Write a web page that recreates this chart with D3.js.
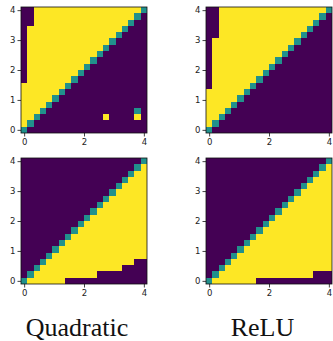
<!DOCTYPE html>
<html>
<head>
<meta charset="utf-8">
<script src="https://cdn.jsdelivr.net/npm/d3@7"></script>
<style>
  body { margin: 0; background: #fff; }
  svg { display: block; }
</style>
</head>
<body>
<div id="chart"></div>
<script>
// grid points on each axis (0..4 in 20 steps)
const gridVals = [0, 0.21, 0.42, 0.63, 0.84, 1.05, 1.26, 1.47, 1.68, 1.89,
                  2.11, 2.32, 2.53, 2.74, 2.95, 3.16, 3.37, 3.58, 3.79, 4.0];
const yTicks = [0, 1, 2, 3, 4];
const xTicks = [0, 2, 4];
const labels = ["Quadratic", "ReLU"];

// cell values, top row first: 0 -> 0, 1 -> 0.5, 2 -> 1
const quadTop = [
  "00222 22222 22222 22221",
  "00222 22222 22222 22210",
  "00222 22222 22222 22100",
  "02222 22222 22222 21000",
  "02222 22222 22222 10000",
  "02222 22222 22221 00000",
  "02222 22222 22210 00000",
  "02222 22222 22100 00000",
  "02222 22222 21000 00000",
  "02222 22222 10000 00000",
  "02222 22221 00000 00000",
  "02222 22210 00000 00000",
  "22222 22100 00000 00000",
  "22222 21000 00000 00000",
  "22222 10000 00000 00000",
  "22221 00000 00000 00000",
  "22210 00000 00000 00010",
  "22100 00000 00020 00020",
  "21000 00000 00000 00000",
  "10000 00000 00000 00000"
];
const reluTop = [
  "00222 22222 22222 22221",
  "00222 22222 22222 22210",
  "00222 22222 22222 22100",
  "00222 22222 22222 21000",
  "00222 22222 22222 10000",
  "02222 22222 22221 00000",
  "02222 22222 22210 00000",
  "02222 22222 22100 00000",
  "02222 22222 21000 00000",
  "02222 22222 10000 00000",
  "02222 22221 00000 00000",
  "02222 22210 00000 00000",
  "02222 22100 00000 00000",
  "22222 21000 00000 00000",
  "22222 10000 00000 00000",
  "22221 00000 00000 00000",
  "22210 00000 00000 00000",
  "22100 00000 00000 00000",
  "21000 00000 00000 00000",
  "10000 00000 00000 00000"
];
const quadBot = [
  "00000 00000 00000 00001",
  "00000 00000 00000 00012",
  "00000 00000 00000 00122",
  "00000 00000 00000 01222",
  "00000 00000 00000 12222",
  "00000 00000 00001 22222",
  "00000 00000 00012 22222",
  "00000 00000 00122 22222",
  "00000 00000 01222 22222",
  "00000 00000 12222 22222",
  "00000 00001 22222 22222",
  "00000 00012 22222 22222",
  "00000 00122 22222 22222",
  "00000 01222 22222 22222",
  "00000 12222 22222 22222",
  "00001 22222 22222 22222",
  "00012 22222 22222 22200",
  "00122 22222 22222 20000",
  "01222 22222 22000 00000",
  "12222 22000 00000 00000"
];
const reluBot = [
  "00000 00000 00000 00001",
  "00000 00000 00000 00012",
  "00000 00000 00000 00122",
  "00000 00000 00000 01222",
  "00000 00000 00000 12222",
  "00000 00000 00001 22222",
  "00000 00000 00012 22222",
  "00000 00000 00122 22222",
  "00000 00000 01222 22222",
  "00000 00000 12222 22222",
  "00000 00001 22222 22222",
  "00000 00012 22222 22222",
  "00000 00122 22222 22222",
  "00000 01222 22222 22222",
  "00000 12222 22222 22222",
  "00001 22222 22222 22222",
  "00012 22222 22222 22222",
  "00122 22222 22222 22222",
  "01222 22222 22222 22000",
  "12222 22200 00000 00000"
];

const W = 333, H = 341;
const size = 126;
const half = 0.105;

const panels = [
  { rows: quadTop, left: 21, top: 7 },
  { rows: reluTop, left: 206, top: 7 },
  { rows: quadBot, left: 21, top: 158 },
  { rows: reluBot, left: 206, top: 158 }
];

const color = d3.scaleSequential(d3.interpolateViridis).domain([0, 1]);

const svg = d3.select("#chart").append("svg")
  .attr("width", W)
  .attr("height", H);

const x = d3.scaleLinear().domain([-half, 4 + half]).range([0, size]);
const y = d3.scaleLinear().domain([-half, 4 + half]).range([size, 0]);
const cw = x(gridVals[1]) - x(gridVals[0]);

panels.forEach(p => {
  // turn the strings into cells
  const cells = [];
  const n = gridVals.length;
  p.rows.forEach((r, ri) => {
    const s = r.replace(/ /g, "");
    const j = n - 1 - ri;
    for (let i = 0; i < n; i++) {
      cells.push({ gx: gridVals[i], gy: gridVals[j], v: +s[i] / 2 });
    }
  });

  const g = svg.append("g")
    .attr("transform", "translate(" + p.left + "," + p.top + ")");

  g.selectAll("rect.cell")
    .data(cells)
    .enter()
    .append("rect")
    .attr("class", "cell")
    .attr("x", d => x(d.gx) - cw / 2)
    .attr("y", d => y(d.gy) - cw / 2)
    .attr("width", cw + 0.3)
    .attr("height", cw + 0.3)
    .attr("fill", d => color(d.v))
    .attr("shape-rendering", "crispEdges");

  // frame
  g.append("rect")
    .attr("width", size)
    .attr("height", size)
    .attr("fill", "none")
    .attr("stroke", "#111")
    .attr("stroke-width", 0.8);

  const yAxis = d3.axisLeft(y).tickValues(yTicks).tickSize(3.5).tickPadding(2).tickFormat(d3.format("d"));
  const xAxis = d3.axisBottom(x).tickValues(xTicks).tickSize(3.5).tickPadding(2).tickFormat(d3.format("d"));

  const ya = g.append("g").call(yAxis);
  const xa = g.append("g").attr("transform", "translate(0," + size + ")").call(xAxis);
  [ya, xa].forEach(a => {
    a.select(".domain").remove();
    a.selectAll("line").attr("stroke", "#111").attr("stroke-width", 0.8);
    a.selectAll("text")
      .attr("fill", "#222")
      .style("font-family", "DejaVu Sans")
      .style("font-size", "8.5px");
  });
});

// bottom captions
svg.selectAll("text.caption")
  .data(labels)
  .enter()
  .append("text")
  .attr("class", "caption")
  .attr("x", (d, i) => i === 0 ? 77 : 262.5)
  .attr("y", 336)
  .attr("text-anchor", "middle")
  .style("font-family", "Liberation Serif")
  .style("font-size", "26px")
  .attr("fill", "#111")
  .text(d => d);
</script>
</body>
</html>
